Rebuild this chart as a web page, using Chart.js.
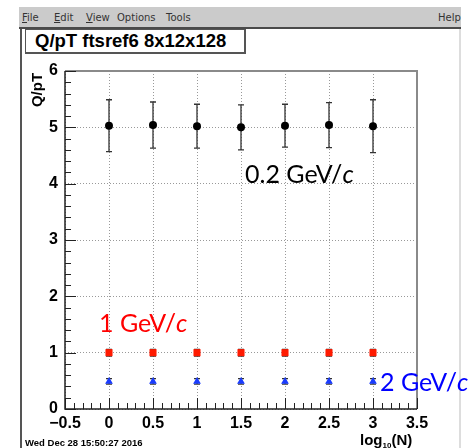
<!DOCTYPE html>
<html>
<head>
<meta charset="utf-8">
<script src="https://cdn.jsdelivr.net/npm/chart.js@4"></script>
<style>
body { margin: 0; background: #fff; }
#wrap { position: relative; width: 474px; height: 448px; overflow: hidden; font-family: "Liberation Sans", Arial, sans-serif; }
#c { position: absolute; left: 0; top: 0; }
#menu { position: absolute; left: 19px; top: 7px; width: 442px; height: 20px; background: #cbcbcb; border-bottom: 2px solid #4a4a4a; font: 10px "DejaVu Sans", sans-serif; color: #333; }
#menu span { position: absolute; top: 5px; }
#menu u { text-decoration: underline; }
.vline { position: absolute; top: 29px; height: 419px; }
#title { position: absolute; left: 25px; top: 29px; width: 209px; height: 22px; border: 1px solid #555; border-right-width: 2px; border-bottom-width: 2px; background: #fff; font-weight: bold; font-size: 18.5px; line-height: 22px; padding-left: 9px; box-sizing: content-box; }
.note { position: absolute; font-family: Lato, "Open Sans", sans-serif; font-size: 25px; line-height: 25px; white-space: nowrap; }
#ytitle { position: absolute; left: 36px; top: 90px; font-weight: bold; font-size: 15px; transform: translate(-50%, -50%) rotate(-90deg); white-space: nowrap; }
#xtitle { position: absolute; left: 360px; top: 431px; font-weight: bold; font-size: 15px; white-space: nowrap; }
#xtitle sub { font-size: 8px; vertical-align: -3px; }
#date { position: absolute; left: 25px; top: 437px; font-weight: bold; font-size: 9.5px; white-space: nowrap; }
</style>
</head>
<body>
<div id="wrap">
  <canvas id="c" width="474" height="448"></canvas>
  <div id="menu">
    <span style="left:3px"><u>F</u>ile</span>
    <span style="left:35px"><u>E</u>dit</span>
    <span style="left:67px"><u>V</u>iew</span>
    <span style="left:98px">Options</span>
    <span style="left:147px">Tools</span>
    <span style="left:419px">Help</span>
  </div>
  <div class="vline" style="left:20px;width:2px;background:#555"></div>
  <div class="vline" style="left:459px;width:2px;background:#ddd"></div>
  <div id="title">Q/pT ftsref6 8x12x128</div>
  <div id="ytitle">Q/pT</div>
  <div id="xtitle">log<sub>10</sub>(N)</div>
  <div id="date">Wed Dec 28 15:50:27 2016</div>
  <div class="note" style="left:245px;top:161px;color:#000">0.2 GeV/<i>c</i></div>
  <div class="note" style="left:99px;top:310px;color:#f00">1 GeV/<i>c</i></div>
  <div class="note" style="left:380px;top:369px;color:#0000ff">2 GeV/<i>c</i></div>
</div>
<script>
// log10(N) positions
const logN = [0, 0.5, 1, 1.5, 2, 2.5, 3];

// Q/pT at 0.2 GeV/c
const q02 = [5.03, 5.04, 5.02, 5.00, 5.03, 5.04, 5.02];
const q02Err = [0.46, 0.41, 0.39, 0.40, 0.38, 0.40, 0.47];

// Q/pT at 1 GeV/c
const q1 = [1.0, 1.0, 1.0, 1.0, 1.0, 1.0, 1.0];
const q1Err = [0.06, 0.06, 0.06, 0.06, 0.06, 0.06, 0.06];

// Q/pT at 2 GeV/c
const q2 = [0.49, 0.49, 0.49, 0.49, 0.49, 0.49, 0.49];
const q2Err = [0.05, 0.05, 0.05, 0.05, 0.05, 0.05, 0.05];

const xTicks = [-0.5, 0, 0.5, 1, 1.5, 2, 2.5, 3, 3.5];
const yTicks = [0, 1, 2, 3, 4, 5, 6];

function pts(ys) {
    return logN.map((x, i) => ({ x: x, y: ys[i] }));
}

const errorBars = {
    id: 'errorBars',
    beforeDatasetsDraw(chart) {
        const { ctx, scales: { x, y } } = chart;
        ctx.save();
        ctx.strokeStyle = '#333';
        ctx.lineWidth = 1.3;
        chart.data.datasets.forEach(ds => {
            ds.data.forEach((p, i) => {
                const px = x.getPixelForValue(p.x);
                const top = y.getPixelForValue(p.y + ds.err[i]);
                const bot = y.getPixelForValue(p.y - ds.err[i]);
                ctx.beginPath();
                ctx.moveTo(px, top); ctx.lineTo(px, bot);
                ctx.moveTo(px - 3, top); ctx.lineTo(px + 3, top);
                ctx.moveTo(px - 3, bot); ctx.lineTo(px + 3, bot);
                ctx.stroke();
            });
        });
        ctx.restore();
    }
};

const frame = {
    id: 'frame',
    afterDraw(chart) {
        const { ctx, chartArea: a, scales: { x, y } } = chart;
        ctx.save();
        // top and right frame
        ctx.strokeStyle = '#8a8a8a';
        ctx.lineWidth = 2;
        ctx.beginPath();
        ctx.moveTo(a.left, a.top); ctx.lineTo(a.right, a.top); ctx.lineTo(a.right, a.bottom);
        ctx.stroke();
        // tick marks inside the frame
        ctx.strokeStyle = '#222';
        ctx.lineWidth = 1;
        ctx.beginPath();
        for (let k = 0; k <= 40; k++) {
            const v = -0.5 + k * 0.1;
            const px = Math.round(x.getPixelForValue(v)) + 0.5;
            const len = k % 5 === 0 ? 11 : 6;
            ctx.moveTo(px, a.bottom); ctx.lineTo(px, a.bottom - len);
        }
        for (let k = 0; k <= 30; k++) {
            const v = k * 0.2;
            const py = Math.round(y.getPixelForValue(v)) + 0.5;
            const len = k % 5 === 0 ? 11 : 6;
            ctx.moveTo(a.left, py); ctx.lineTo(a.left + len, py);
        }
        ctx.stroke();
        // axes
        ctx.strokeStyle = '#222';
        ctx.lineWidth = 1.5;
        ctx.beginPath();
        ctx.moveTo(a.left, a.top); ctx.lineTo(a.left, a.bottom); ctx.lineTo(a.right, a.bottom);
        ctx.stroke();
        ctx.restore();
    }
};

const tickFont = { family: '"Liberation Sans", Arial, sans-serif', size: 16, weight: 'bold' };
const fmt = v => (v < 0 ? '\u2212' + Math.abs(v) : String(v));

new Chart(document.getElementById('c'), {
    type: 'scatter',
    data: {
        datasets: [
            { data: pts(q02), err: q02Err, pointStyle: 'circle', pointRadius: 4, backgroundColor: '#000', borderColor: '#000', borderWidth: 0 },
            { data: pts(q1), err: q1Err, pointStyle: 'rect', pointRadius: 5, backgroundColor: '#ff1a00', borderColor: '#ff1a00', borderWidth: 0 },
            { data: pts(q2), err: q2Err, pointStyle: 'triangle', pointRadius: 4.5, backgroundColor: '#1a3cff', borderColor: '#1a3cff', borderWidth: 0 }
        ]
    },
    options: {
        responsive: false,
        animation: false,
        layout: { padding: { left: 0, right: 57, top: 71, bottom: 0 } },
        plugins: { legend: { display: false }, tooltip: { enabled: false } },
        scales: {
            x: {
                type: 'linear', min: -0.5, max: 3.5,
                afterBuildTicks: s => { s.ticks = xTicks.map(v => ({ value: v })); },
                afterFit: s => { s.height = 39; },
                ticks: { font: tickFont, color: '#000', padding: 5, maxRotation: 0, callback: fmt },
                grid: { color: '#999', lineWidth: 1, drawTicks: false },
                border: { display: false, dash: [1, 2] }
            },
            y: {
                type: 'linear', min: 0, max: 6,
                afterBuildTicks: s => { s.ticks = yTicks.map(v => ({ value: v })); },
                afterFit: s => { s.width = 65; },
                ticks: { font: tickFont, color: '#000', padding: 7, callback: fmt },
                grid: { color: '#999', lineWidth: 1, drawTicks: false },
                border: { display: false, dash: [1, 2] }
            }
        }
    },
    plugins: [errorBars, frame]
});
</script>
</body>
</html>
